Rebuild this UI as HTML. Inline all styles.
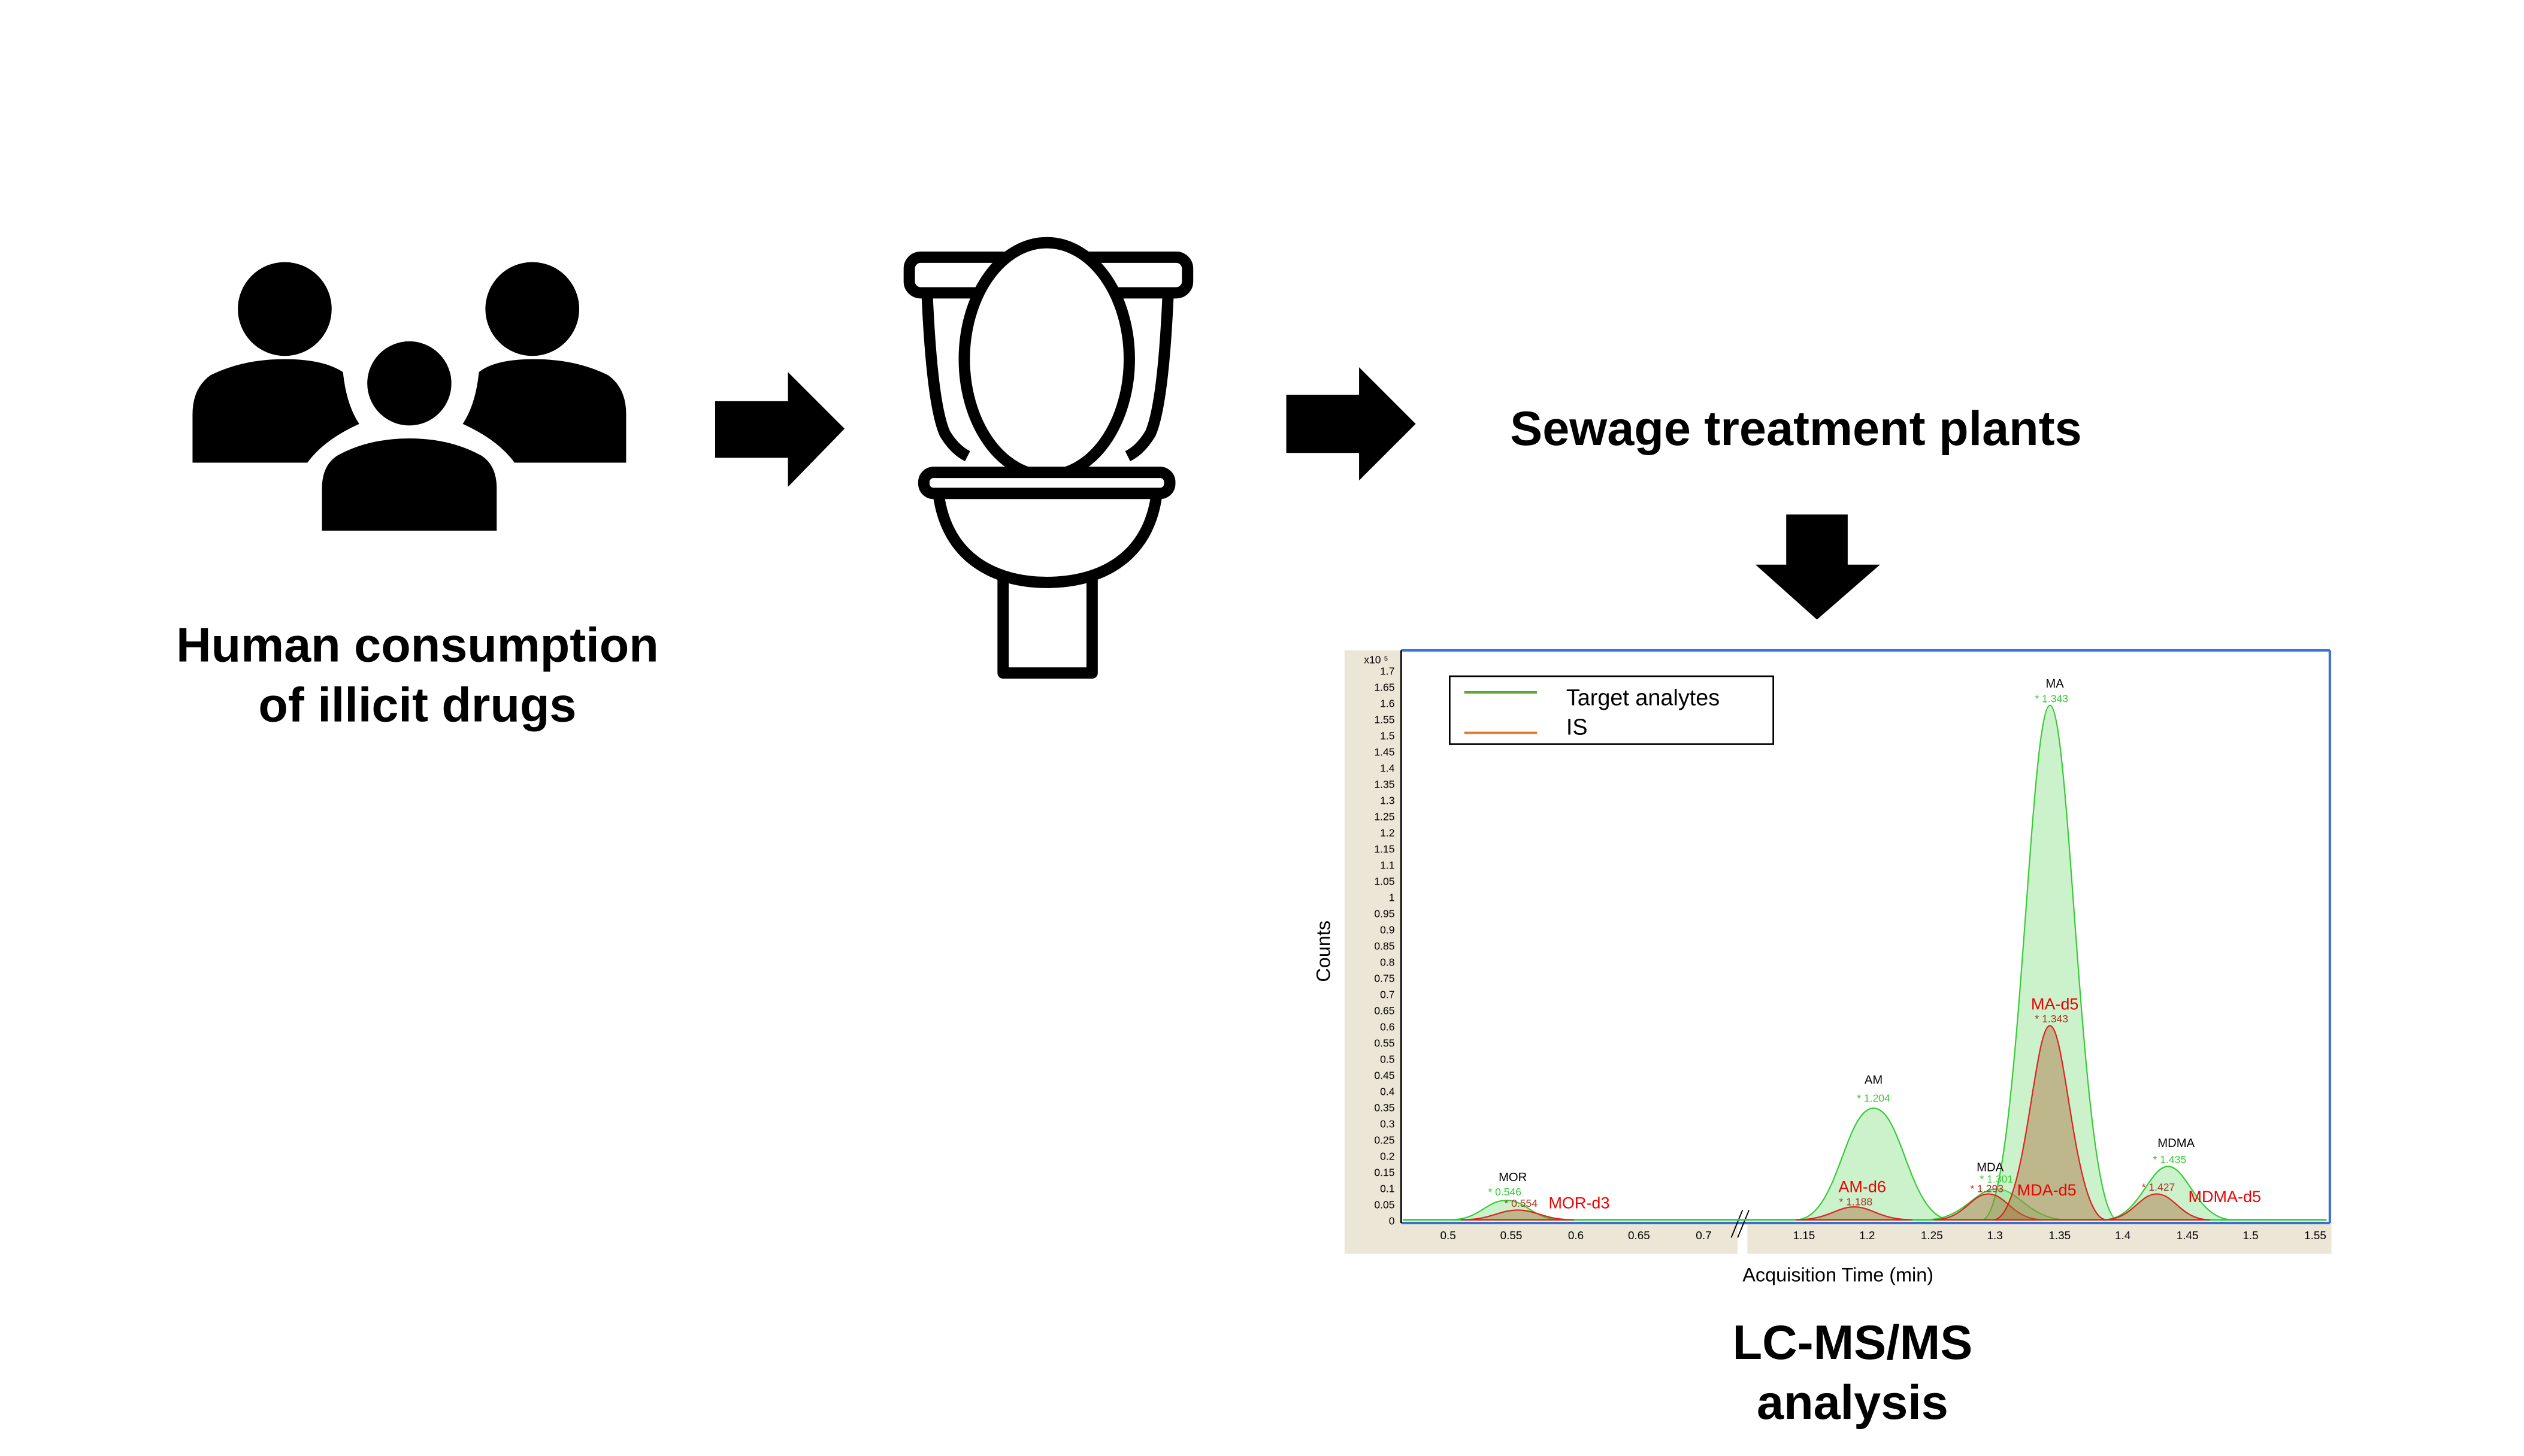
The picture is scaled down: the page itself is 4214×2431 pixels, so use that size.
<!DOCTYPE html>
<html><head><meta charset="utf-8"><style>
html,body{margin:0;padding:0;background:#fff;}
svg{display:block;}
text{font-family:"Liberation Sans",Arial,sans-serif;}
</style></head><body>
<svg width="4214" height="2431" viewBox="0 0 1560 900" preserveAspectRatio="none" xmlns="http://www.w3.org/2000/svg">
<rect width="1560" height="900" fill="#fff"/>
<!-- people -->
<g fill="#000">
<circle cx="176" cy="191" r="29"/>
<circle cx="329" cy="191" r="29"/>
<path d="M119,286 L119,256 Q119,240 130,232 Q150,222 176,222 Q200,222 212,230 Q214,250 222,262 Q200,272 190,286 Z"/>
<path d="M387,286 L387,256 Q387,240 376,232 Q356,222 330,222 Q306,222 296,230 Q294,250 286,262 Q308,272 318,286 Z"/>
<circle cx="253" cy="237" r="29" stroke="#fff" stroke-width="6"/>
<path d="M196,331 L196,302 Q196,286 207,279 Q227,268 253,268 Q279,268 299,279 Q310,286 310,302 L310,331 Z" stroke="#fff" stroke-width="6"/>
</g>
<!-- arrow 1 -->
<path d="M442,248 L487,248 L487,230 L522,265 L487,301 L487,283 L442,283 Z" fill="#000"/>
<!-- toilet -->
<g fill="#fff" stroke="#000" stroke-width="7" stroke-linejoin="round">
<path d="M573,181 Q576,250 584,268 Q590,278 598,282"/>
<path d="M722,181 Q719,250 711,268 Q705,278 697,282"/>
<rect x="562" y="159" width="172" height="22" rx="7"/>
<ellipse cx="647" cy="222" rx="51" ry="72"/>
<path d="M580,305 C585,345 615,360 647,360 C680,360 710,345 715,305"/>
<rect x="571" y="292" width="152" height="13" rx="6"/>
<path d="M620,357 L620,416 L675,416 L675,357" fill="none"/>
</g>
<!-- arrow 2 -->
<path d="M795,244 L840,244 L840,227 L875,262 L840,297 L840,280 L795,280 Z" fill="#000"/>
<text x="1110" y="275" font-size="30" font-weight="bold" text-anchor="middle">Sewage treatment plants</text>
<!-- down arrow -->
<path d="M1104,318 L1142,318 L1142,349 L1162,349 L1123,383 L1085,349 L1104,349 Z" fill="#000"/>
<!-- labels -->
<text x="258" y="409" font-size="30" font-weight="bold" text-anchor="middle">Human consumption</text>
<text x="258" y="446" font-size="30" font-weight="bold" text-anchor="middle">of illicit drugs</text>
<text x="1145" y="840" font-size="30" font-weight="bold" text-anchor="middle">LC-MS/MS</text>
<text x="1145" y="877" font-size="30" font-weight="bold" text-anchor="middle">analysis</text>
<!-- chart bg -->
<rect x="831" y="402" width="610" height="373" fill="#ece6d6"/>
<rect x="1074" y="757" width="6" height="18" fill="#fff"/>
<rect x="866" y="402" width="574" height="353" fill="#fff"/>
<line x1="866" y1="402" x2="1440" y2="402" stroke="#3a6fd0" stroke-width="1.5"/>
<line x1="1440" y1="402" x2="1440" y2="756" stroke="#3a6fd0" stroke-width="1.5"/>
<line x1="866" y1="756" x2="1440" y2="756" stroke="#3a6fd0" stroke-width="1.5"/>
<line x1="866" y1="402" x2="866" y2="756" stroke="#000" stroke-width="1"/>
<!-- y ticks -->
<g font-size="6.5" text-anchor="end" fill="#000">
<text x="862" y="757">0</text><text x="862" y="747">0.05</text><text x="862" y="737">0.1</text><text x="862" y="727">0.15</text><text x="862" y="717">0.2</text><text x="862" y="707">0.25</text><text x="862" y="697">0.3</text><text x="862" y="687">0.35</text><text x="862" y="677">0.4</text><text x="862" y="667">0.45</text><text x="862" y="657">0.5</text><text x="862" y="647">0.55</text><text x="862" y="637">0.6</text><text x="862" y="627">0.65</text><text x="862" y="617">0.7</text><text x="862" y="607">0.75</text><text x="862" y="597">0.8</text><text x="862" y="587">0.85</text><text x="862" y="577">0.9</text><text x="862" y="567">0.95</text><text x="862" y="557">1</text><text x="862" y="547">1.05</text><text x="862" y="537">1.1</text><text x="862" y="527">1.15</text><text x="862" y="517">1.2</text><text x="862" y="507">1.25</text><text x="862" y="497">1.3</text><text x="862" y="487">1.35</text><text x="862" y="477">1.4</text><text x="862" y="467">1.45</text><text x="862" y="457">1.5</text><text x="862" y="447">1.55</text><text x="862" y="437">1.6</text><text x="862" y="427">1.65</text><text x="862" y="417">1.7</text>
<text x="858" y="410">x10 ⁵</text>
</g>
<!-- x ticks -->
<g font-size="7" text-anchor="middle" fill="#000">
<text x="895" y="766">0.5</text><text x="934" y="766">0.55</text><text x="974" y="766">0.6</text><text x="1013" y="766">0.65</text><text x="1053" y="766">0.7</text>
<text x="1115" y="766">1.15</text><text x="1154" y="766">1.2</text><text x="1194" y="766">1.25</text><text x="1233" y="766">1.3</text><text x="1273" y="766">1.35</text><text x="1312" y="766">1.4</text><text x="1352" y="766">1.45</text><text x="1391" y="766">1.5</text><text x="1431" y="766">1.55</text>
</g>
<path d="M1070,765 L1077,748 M1074,765 L1081,748" stroke="#000" stroke-width="0.7"/>
<text x="1136" y="792" font-size="12" text-anchor="middle">Acquisition Time (min)</text>
<text x="822" y="588" font-size="12" text-anchor="middle" transform="rotate(-90 822 588)">Counts</text>
<!-- baseline -->
<line x1="867" y1="754" x2="1438" y2="754" stroke="#3c3" stroke-width="1"/>
<!-- green peaks -->
<g fill="rgba(120,220,120,0.38)" stroke="#3c3" stroke-width="0.8">
<path d="M896,754 C915,754 918,742 931,742 C944,742 947,754 966,754 Z"/>
<path d="M1110,754 C1136,754 1140,685 1158,685 C1176,685 1180,754 1206,754 Z"/>
<path d="M1190,754 C1214,754 1220,735 1234,735 C1248,735 1254,754 1278,754 Z"/>
<path d="M1225,754 C1248,754 1254,436 1267,436 C1280,436 1286,754 1309,754 Z"/>
<path d="M1300,754 C1322,754 1328,721 1340,721 C1352,721 1358,754 1380,754 Z"/>
</g>
<!-- red peaks -->
<g fill="rgba(170,110,60,0.45)" stroke="#e02020" stroke-width="0.8">
<path d="M903,754 C922,754 926,748 938,748 C950,748 954,754 973,754 Z"/>
<path d="M1110,754 C1130,754 1135,746 1146,746 C1157,746 1162,754 1182,754 Z"/>
<path d="M1195,754 C1214,754 1218,738 1229,738 C1240,738 1244,754 1263,754 Z"/>
<path d="M1232,754 C1252,754 1257,634 1267,634 C1277,634 1282,754 1302,754 Z"/>
<path d="M1300,754 C1318,754 1322,738 1333,738 C1344,738 1348,754 1366,754 Z"/>
</g>
<!-- legend -->
<rect x="896" y="418" width="200" height="42" fill="#fff" stroke="#000" stroke-width="1"/>
<line x1="905" y1="428" x2="950" y2="428" stroke="#5aa83a" stroke-width="1.5"/>
<line x1="905" y1="453" x2="950" y2="453" stroke="#e07a30" stroke-width="1.5"/>
<text x="968" y="436" font-size="14">Target analytes</text>
<text x="968" y="454" font-size="14">IS</text>
<!-- peak labels -->
<g font-size="7.5" text-anchor="middle">
<text x="935" y="730">MOR</text><text x="930" y="739" fill="#3c3" font-size="6.5">* 0.546</text><text x="940" y="746" fill="#b03020" font-size="6.5">* 0.554</text>
<text x="1158" y="670">AM</text><text x="1158" y="681" fill="#3c3" font-size="6.5">* 1.204</text><text x="1147" y="745" fill="#b03020" font-size="6.5">* 1.188</text>
<text x="1230" y="724">MDA</text><text x="1234" y="731" fill="#3c3" font-size="6.5">* 1.301</text><text x="1228" y="737" fill="#b03020" font-size="6.5">* 1.293</text>
<text x="1270" y="425">MA</text><text x="1268" y="434" fill="#3c3" font-size="6.5">* 1.343</text><text x="1268" y="632" fill="#b03020" font-size="6.5">* 1.343</text>
<text x="1345" y="709">MDMA</text><text x="1341" y="719" fill="#3c3" font-size="6.5">* 1.435</text><text x="1334" y="736" fill="#b03020" font-size="6.5">* 1.427</text>
</g>
<g font-size="10" fill="#e00" text-anchor="middle">
<text x="976" y="747">MOR-d3</text><text x="1151" y="737">AM-d6</text><text x="1265" y="739">MDA-d5</text><text x="1270" y="624">MA-d5</text><text x="1375" y="743">MDMA-d5</text>
</g>
</svg>
</body></html>
